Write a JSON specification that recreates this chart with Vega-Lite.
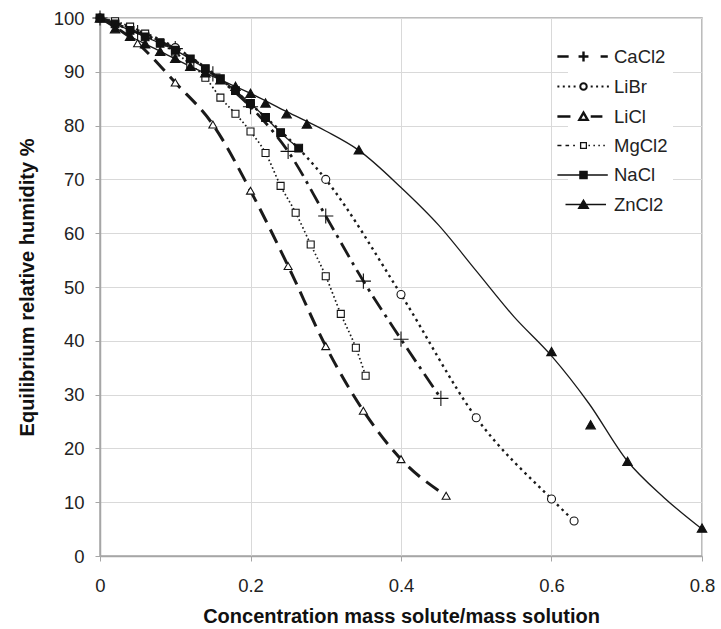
{
  "$schema": "https://vega.github.io/schema/vega-lite/v6.json",
  "autosize": {"type": "none"},
  "padding": {"left": 100, "top": 18, "right": 19, "bottom": 73},
  "width": 602,
  "height": 538,
  "background": "white",
  "config": {
    "font": "Liberation Sans",
    "view": {"stroke": "#a6a6a6", "strokeWidth": 1.5},
    "axis": {
      "gridColor": "#d9d9d9",
      "gridWidth": 1,
      "domainColor": "#a6a6a6",
      "domainWidth": 1.5,
      "tickColor": "#a6a6a6",
      "tickSize": 5,
      "labelFont": "Liberation Sans",
      "labelFontSize": 18.5,
      "labelColor": "#222222",
      "titleFont": "Liberation Sans",
      "titleFontSize": 20,
      "titleFontWeight": "bold",
      "titleColor": "#111111"
    }
  },
  "datasets": {
    "pts": [
      {"salt": "CaCl2", "x": 0, "rh": 100},
      {"salt": "CaCl2", "x": 0.05, "rh": 97.3},
      {"salt": "CaCl2", "x": 0.1, "rh": 94.3},
      {"salt": "CaCl2", "x": 0.15, "rh": 89.6},
      {"salt": "CaCl2", "x": 0.2, "rh": 83.5},
      {"salt": "CaCl2", "x": 0.25, "rh": 75.2},
      {"salt": "CaCl2", "x": 0.3, "rh": 63.2},
      {"salt": "CaCl2", "x": 0.35, "rh": 51.1},
      {"salt": "CaCl2", "x": 0.4, "rh": 40.3},
      {"salt": "CaCl2", "x": 0.453, "rh": 29.3},
      {"salt": "LiBr", "x": 0, "rh": 100},
      {"salt": "LiBr", "x": 0.1, "rh": 94.5},
      {"salt": "LiBr", "x": 0.2, "rh": 84},
      {"salt": "LiBr", "x": 0.3, "rh": 70},
      {"salt": "LiBr", "x": 0.4, "rh": 48.6},
      {"salt": "LiBr", "x": 0.5, "rh": 25.7},
      {"salt": "LiBr", "x": 0.6, "rh": 10.6},
      {"salt": "LiBr", "x": 0.63, "rh": 6.5},
      {"salt": "LiCl", "x": 0, "rh": 100},
      {"salt": "LiCl", "x": 0.05, "rh": 95.3},
      {"salt": "LiCl", "x": 0.1, "rh": 88},
      {"salt": "LiCl", "x": 0.15, "rh": 80.2},
      {"salt": "LiCl", "x": 0.2, "rh": 67.9},
      {"salt": "LiCl", "x": 0.25, "rh": 53.9},
      {"salt": "LiCl", "x": 0.3, "rh": 39},
      {"salt": "LiCl", "x": 0.35, "rh": 27},
      {"salt": "LiCl", "x": 0.4, "rh": 18},
      {"salt": "LiCl", "x": 0.46, "rh": 11.2},
      {"salt": "MgCl2", "x": 0, "rh": 100},
      {"salt": "MgCl2", "x": 0.02, "rh": 99.4},
      {"salt": "MgCl2", "x": 0.04, "rh": 98.4},
      {"salt": "MgCl2", "x": 0.06, "rh": 97.1},
      {"salt": "MgCl2", "x": 0.08, "rh": 95.5},
      {"salt": "MgCl2", "x": 0.1, "rh": 93.6},
      {"salt": "MgCl2", "x": 0.12, "rh": 91.4},
      {"salt": "MgCl2", "x": 0.14, "rh": 88.9},
      {"salt": "MgCl2", "x": 0.16, "rh": 85.2},
      {"salt": "MgCl2", "x": 0.18, "rh": 82.2},
      {"salt": "MgCl2", "x": 0.2, "rh": 78.9},
      {"salt": "MgCl2", "x": 0.22, "rh": 74.9},
      {"salt": "MgCl2", "x": 0.24, "rh": 68.8},
      {"salt": "MgCl2", "x": 0.26, "rh": 63.8},
      {"salt": "MgCl2", "x": 0.28, "rh": 57.9},
      {"salt": "MgCl2", "x": 0.3, "rh": 52},
      {"salt": "MgCl2", "x": 0.32, "rh": 45},
      {"salt": "MgCl2", "x": 0.34, "rh": 38.7},
      {"salt": "MgCl2", "x": 0.353, "rh": 33.5},
      {"salt": "NaCl", "x": 0, "rh": 100},
      {"salt": "NaCl", "x": 0.02, "rh": 98.9},
      {"salt": "NaCl", "x": 0.04, "rh": 97.7},
      {"salt": "NaCl", "x": 0.06, "rh": 96.5},
      {"salt": "NaCl", "x": 0.08, "rh": 95.3},
      {"salt": "NaCl", "x": 0.1, "rh": 94},
      {"salt": "NaCl", "x": 0.12, "rh": 92.4},
      {"salt": "NaCl", "x": 0.14, "rh": 90.6},
      {"salt": "NaCl", "x": 0.16, "rh": 88.7},
      {"salt": "NaCl", "x": 0.18, "rh": 86.5},
      {"salt": "NaCl", "x": 0.2, "rh": 84.1},
      {"salt": "NaCl", "x": 0.22, "rh": 81.5},
      {"salt": "NaCl", "x": 0.24, "rh": 78.7},
      {"salt": "NaCl", "x": 0.264, "rh": 75.8},
      {"salt": "ZnCl2", "x": 0, "rh": 100},
      {"salt": "ZnCl2", "x": 0.02, "rh": 98},
      {"salt": "ZnCl2", "x": 0.04, "rh": 96.6},
      {"salt": "ZnCl2", "x": 0.06, "rh": 95.2},
      {"salt": "ZnCl2", "x": 0.08, "rh": 93.8},
      {"salt": "ZnCl2", "x": 0.1, "rh": 92.5},
      {"salt": "ZnCl2", "x": 0.12, "rh": 91},
      {"salt": "ZnCl2", "x": 0.14, "rh": 89.8},
      {"salt": "ZnCl2", "x": 0.16, "rh": 88.5},
      {"salt": "ZnCl2", "x": 0.18, "rh": 87.3},
      {"salt": "ZnCl2", "x": 0.2, "rh": 86},
      {"salt": "ZnCl2", "x": 0.22, "rh": 84.2},
      {"salt": "ZnCl2", "x": 0.248, "rh": 82.2},
      {"salt": "ZnCl2", "x": 0.275, "rh": 80.3},
      {"salt": "ZnCl2", "x": 0.344, "rh": 75.5},
      {"salt": "ZnCl2", "x": 0.6, "rh": 38},
      {"salt": "ZnCl2", "x": 0.652, "rh": 24.4},
      {"salt": "ZnCl2", "x": 0.701, "rh": 17.6},
      {"salt": "ZnCl2", "x": 0.8, "rh": 5.2}
    ],
    "zncurve": [
      {"x": 0, "rh": 100},
      {"x": 0.04, "rh": 96.6},
      {"x": 0.08, "rh": 93.8},
      {"x": 0.12, "rh": 91},
      {"x": 0.16, "rh": 88.5},
      {"x": 0.2, "rh": 86},
      {"x": 0.248, "rh": 82.6},
      {"x": 0.3, "rh": 79},
      {"x": 0.344, "rh": 75.4},
      {"x": 0.4, "rh": 68.5},
      {"x": 0.45, "rh": 61.5},
      {"x": 0.5, "rh": 53},
      {"x": 0.55, "rh": 44.5},
      {"x": 0.6, "rh": 37.2},
      {"x": 0.65, "rh": 28.3},
      {"x": 0.7, "rh": 17.8},
      {"x": 0.75, "rh": 10.8},
      {"x": 0.8, "rh": 5}
    ]
  },
  "encoding": {
    "x": {
      "field": "x", "type": "quantitative",
      "scale": {"domain": [0, 0.8], "nice": false},
      "axis": {
        "title": "Concentration mass solute/mass solution",
        "values": [0, 0.2, 0.4, 0.6, 0.8],
        "format": "~g",
        "labelFlush": false,
        "labelPadding": 15,
        "titlePadding": 12
      }
    },
    "y": {
      "field": "rh", "type": "quantitative",
      "scale": {"domain": [0, 100], "nice": false},
      "axis": {
        "title": "Equilibrium relative humidity %",
        "values": [0, 10, 20, 30, 40, 50, 60, 70, 80, 90, 100],
        "format": "d",
        "labelPadding": 11,
        "titlePadding": 16
      }
    }
  },
  "layer": [
    {
      "data": {"name": "pts"},
      "transform": [{"filter": "datum.salt !== 'ZnCl2'"}],
      "mark": {"type": "line", "interpolate": "monotone", "color": "#1a1a1a", "clip": true},
      "encoding": {
        "strokeDash": {
          "field": "salt", "type": "nominal",
          "scale": {
            "domain": ["CaCl2", "LiBr", "LiCl", "MgCl2", "NaCl"],
            "range": [[16, 6, 3, 6], [2.5, 4], [15, 8], [1.6, 2.6], [1, 0]]
          },
          "legend": null
        },
        "strokeWidth": {
          "field": "salt", "type": "nominal",
          "scale": {
            "type": "ordinal",
            "domain": ["CaCl2", "LiBr", "LiCl", "MgCl2", "NaCl"],
            "range": [2.8, 2.4, 3, 1.7, 1.3]
          },
          "legend": null
        }
      }
    },
    {
      "data": {"name": "zncurve"},
      "mark": {"type": "line", "interpolate": "monotone", "color": "#1a1a1a", "strokeWidth": 1.3, "clip": true},
      "encoding": {}
    },
    {
      "data": {"name": "pts"},
      "mark": {"type": "point", "stroke": "#111111", "strokeWidth": 1.1, "opacity": 1, "clip": false},
      "encoding": {
        "fill": {
          "field": "salt", "type": "nominal",
          "scale": {
            "domain": ["CaCl2", "LiBr", "LiCl", "MgCl2", "NaCl", "ZnCl2"],
            "range": ["transparent", "white", "white", "white", "#111111", "#111111"]
          },
          "legend": null
        },
        "shape": {
          "field": "salt", "type": "nominal",
          "scale": {
            "domain": ["CaCl2", "LiBr", "LiCl", "MgCl2", "NaCl", "ZnCl2"],
            "range": ["M-1,0H1M0,-1V1", "circle", "triangle-up", "square", "square", "triangle-up"]
          },
          "legend": null
        },
        "size": {
          "field": "salt", "type": "nominal",
          "scale": {
            "type": "ordinal",
            "domain": ["CaCl2", "LiBr", "LiCl", "MgCl2", "NaCl", "ZnCl2"],
            "range": [230, 64, 64, 49, 60, 90]
          },
          "legend": null
        }
      }
    },
    {
      "data": {"name": "pts"},
      "transform": [{"filter": "false"}],
      "mark": {"type": "point", "stroke": "#111111", "opacity": 1},
      "encoding": {
        "shape": {
          "field": "salt", "type": "nominal",
          "scale": {
            "domain": ["CaCl2", "LiBr", "LiCl", "MgCl2", "NaCl", "ZnCl2"],
            "range": [
              "M-2.9,0H-1.65M-0.55,0H0.55M0,-0.55V0.55M1.9,0H2.7",
              "M-2.9,0H-2.68M-2.3,0H-2.08M-1.7,0H-1.48M-1.1,0H-0.88M0.36,0A0.36,0.36,0,1,1,-0.36,0A0.36,0.36,0,1,1,0.36,0ZM0.8,0H1.02M1.4,0H1.62M2,0H2.22M2.6,0H2.82",
              "M-2.9,0H-1.45M0,-0.42L0.46,0.38L-0.46,0.38ZM0.8,0H2.1",
              "M-2.9,0H-2.45M-2,0H-1.6M-1.15,0H-0.95M-0.32,-0.32H0.32V0.32H-0.32ZM0.55,0H0.72M1.1,0H1.27M1.65,0H1.82M2.2,0H2.37",
              "M-2.9,0H2.7M-0.4,-0.4H0.4V0.4H-0.4Z",
              "M-2,0H2.5M0,-0.5L0.55,0.42L-0.55,0.42Z"
            ]
          },
          "legend": {
            "orient": "none",
            "legendX": 468,
            "legendY": 23,
            "title": null,
            "padding": 5,
            "fillColor": "white",
            "symbolSize": 324,
            "labelFont": "Liberation Sans",
            "labelFontSize": 18.5,
            "labelColor": "#222222",
            "labelOffset": 20,
            "rowPadding": 9.5
          }
        },
        "fill": {
          "field": "salt", "type": "nominal",
          "scale": {
            "domain": ["CaCl2", "LiBr", "LiCl", "MgCl2", "NaCl", "ZnCl2"],
            "range": ["white", "white", "white", "white", "#111111", "#111111"]
          }
        },
        "strokeWidth": {
          "field": "salt", "type": "nominal",
          "scale": {
            "type": "ordinal",
            "domain": ["CaCl2", "LiBr", "LiCl", "MgCl2", "NaCl", "ZnCl2"],
            "range": [2.4, 2, 2.4, 1.3, 1.3, 1.3]
          }
        }
      }
    }
  ],
  "resolve": {
    "scale": {"shape": "independent", "fill": "independent", "strokeWidth": "independent", "size": "independent"}
  }
}
